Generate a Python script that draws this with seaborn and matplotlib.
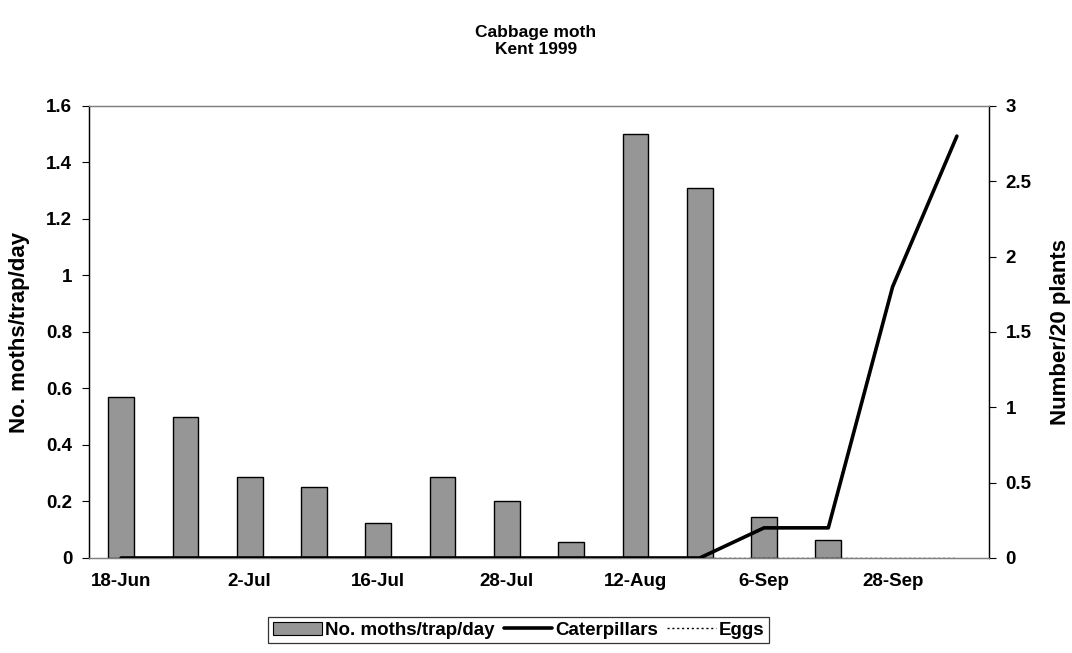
import matplotlib.pyplot as plt
import matplotlib.patches as mpatches
from matplotlib.lines import Line2D
import numpy as np
import pandas as pd
import seaborn as sns

sns.set_style("white")
plt.rcParams["font.family"] = ["Liberation Sans", "DejaVu Sans"]
plt.rcParams["font.weight"] = "bold"
plt.rcParams["text.color"] = "black"
plt.rcParams["axes.labelcolor"] = "black"
plt.rcParams["xtick.color"] = "black"
plt.rcParams["ytick.color"] = "black"

# data (sampling dates, only every other one is labelled)
dates = ["18-Jun", "25-Jun", "2-Jul", "9-Jul", "16-Jul", "22-Jul", "28-Jul",
         "4-Aug", "12-Aug", "24-Aug", "6-Sep", "17-Sep", "28-Sep", "12-Oct"]
moths = [0.57, 0.5, 0.286, 0.25, 0.125, 0.286, 0.2,
         0.056, 1.5, 1.31, 0.145, 0.065, np.nan, np.nan]
caterpillars = [0, 0, 0, 0, 0, 0, 0, 0, 0, 0, 0.2, 0.2, 1.8, 2.8]
eggs = [0, 0, 0, 0, 0, 0, 0, 0, 0, 0, 0, 0, 0, 0]
left_ticks = [0, 0.2, 0.4, 0.6, 0.8, 1, 1.2, 1.4, 1.6]
right_ticks = [0, 0.5, 1, 1.5, 2, 2.5, 3]

df = pd.DataFrame({"date": dates, "moths": moths,
                   "caterpillars": caterpillars, "eggs": eggs})
df["pos"] = np.arange(len(dates))

fig = plt.figure(figsize=(10.72, 6.53), dpi=100)
ax = fig.add_axes([0.083, 0.1455, 0.8396, 0.6922])
ax2 = ax.twinx()

sns.barplot(data=df, x="date", y="moths", order=dates, ax=ax, color="#969696",
            edgecolor="black", linewidth=1, width=0.4, saturation=1, zorder=2)
for b in ax.patches:
    b.set_facecolor("#969696")

sns.lineplot(data=df, x="pos", y="eggs", ax=ax2, color="black", linewidth=1,
             linestyle=(0, (1.5, 2)), zorder=1)
sns.lineplot(data=df, x="pos", y="caterpillars", ax=ax2, color="black",
             linewidth=2.6, zorder=3)

ax.set_xlim(-0.5, len(dates) - 0.5)
ax2.set_xlim(-0.5, len(dates) - 0.5)
ax.set_ylim(0, 1.6)
ax2.set_ylim(0, 3)
ax.set_yticks(left_ticks)
ax.set_yticklabels([f"{t:g}" for t in left_ticks])
ax2.set_yticks(right_ticks)
ax2.set_yticklabels([f"{t:g}" for t in right_ticks])

fs = 13.5
ax.set_xticks(range(0, len(dates), 2))
ax.set_xticklabels(dates[::2])
ax.set_xticks(np.arange(-0.5, len(dates), 1), minor=True)
ax.tick_params(axis="x", which="major", length=0, pad=11, labelsize=fs)
ax.tick_params(axis="x", which="minor", length=5, width=0.8, color="black", direction="out")
ax.tick_params(axis="y", length=5, width=0.8, color="black", direction="out", labelsize=fs, pad=7)
ax2.tick_params(axis="y", length=5, width=0.8, color="black", direction="out", labelsize=fs, pad=7)
for lab in ax.get_xticklabels() + ax.get_yticklabels() + ax2.get_yticklabels():
    lab.set_fontweight("bold")

ax.set_xlabel("")
ax.set_ylabel("No. moths/trap/day", fontsize=16, fontweight="bold")
ax2.set_ylabel("Number/20 plants", fontsize=16, fontweight="bold")
ax.yaxis.set_label_coords(-0.066, 0.5)
ax2.yaxis.set_label_coords(1.068, 0.5)

for a in (ax, ax2):
    a.spines["left"].set_color("black")
    a.spines["right"].set_color("black")
    a.spines["bottom"].set_color("#808080")
    a.spines["top"].set_color("#808080")
    for s in a.spines.values():
        s.set_linewidth(0.9)
ax.set_zorder(ax2.get_zorder() - 1)
ax2.patch.set_visible(False)

fig.text(0.5, 0.937, "Cabbage moth\nKent 1999", ha="center", va="center",
         fontsize=12.5, fontweight="bold", linespacing=1.2)

handles = [mpatches.Patch(facecolor="#969696", edgecolor="black", linewidth=0.8),
           Line2D([], [], color="black", linewidth=2.6),
           Line2D([], [], color="black", linewidth=1, linestyle=(0, (1.5, 2)))]
leg = fig.legend(handles, ["No. moths/trap/day", "Caterpillars", "Eggs"],
                 loc="center", bbox_to_anchor=(0.484, 0.035), ncol=3,
                 frameon=True, fancybox=False, edgecolor="black",
                 prop={"size": fs, "weight": "bold"}, handlelength=2.6,
                 handletextpad=0.15, columnspacing=0.5, borderpad=0.25)
leg.get_frame().set_linewidth(0.9)

fig.savefig("out.png", dpi=100)
